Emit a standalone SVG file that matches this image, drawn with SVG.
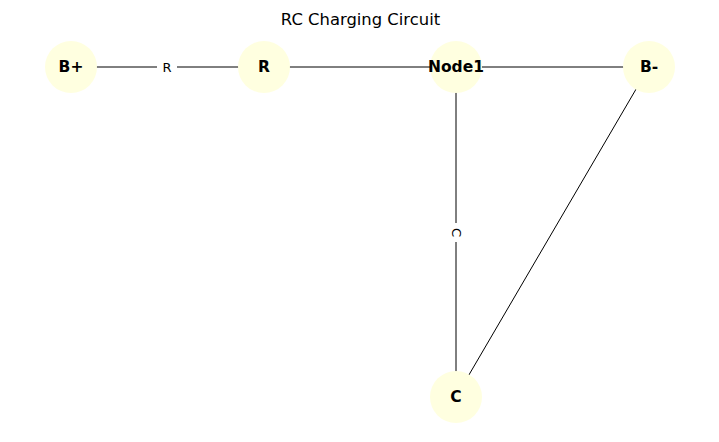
<svg xmlns="http://www.w3.org/2000/svg" width="719" height="442" viewBox="0 0 719 442">
<style>
.edge{stroke:#000;stroke-width:1;fill:none}
.node circle{fill:#ffffe0}
.node text{font-family:"DejaVu Sans",sans-serif;font-size:15.5px;font-weight:bold;text-anchor:middle;dominant-baseline:central;fill:#000}
.elabel{font-family:"DejaVu Sans",sans-serif;font-size:13px;text-anchor:middle;dominant-baseline:central;fill:#000}
.title{font-family:"DejaVu Sans",sans-serif;font-size:16.4px;text-anchor:middle;fill:#000}
</style>
<rect width="719" height="442" fill="#fff"/>
<text class="title" x="360.5" y="25">RC Charging Circuit</text>
<g id="connectors">
<line class="edge" x1="71" y1="67" x2="264" y2="67"/>
<line class="edge" x1="264" y1="67" x2="456" y2="67"/>
<line class="edge" x1="456" y1="67" x2="649" y2="67"/>
<line class="edge" x1="456" y1="67" x2="456" y2="397"/>
<line class="edge" x1="649" y1="67" x2="456" y2="397"/>
<rect x="157" y="57" width="20" height="20" fill="#fff"/>
<text class="elabel" x="167" y="67">R</text>
<rect x="446" y="223" width="20" height="19" fill="#fff"/>
<text class="elabel" x="456" y="232.5" transform="rotate(90 456 232.5)">C</text>
</g>
<g id="node-Bplus" class="node"><circle cx="71" cy="67" r="26"/><text x="71" y="67">B+</text></g>
<g id="node-R" class="node"><circle cx="264" cy="67" r="26"/><text x="264" y="67">R</text></g>
<g id="node-Node1" class="node"><circle cx="456" cy="67" r="26"/><text x="456" y="67">Node1</text></g>
<g id="node-Bminus" class="node"><circle cx="649" cy="67" r="26"/><text x="649" y="67">B-</text></g>
<g id="node-C" class="node"><circle cx="456" cy="397" r="26"/><text x="456" y="397">C</text></g>
</svg>
